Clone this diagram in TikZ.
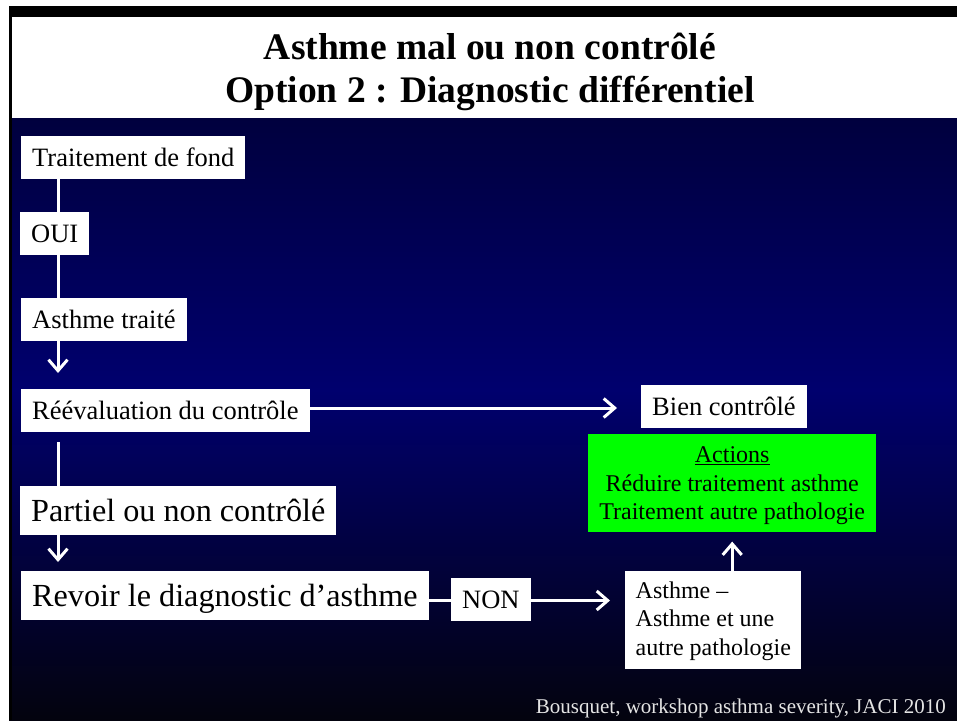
\documentclass[tikz,border=0pt]{standalone}
\usepackage{fontspec}
\setmainfont{Liberation Serif}
\usetikzlibrary{arrows.meta,calc}

\definecolor{navytop}{RGB}{0,0,62}
\definecolor{navymid}{RGB}{0,0,110}
\definecolor{navybot}{RGB}{3,3,14}
\definecolor{actgreen}{RGB}{0,255,0}
\definecolor{srcgray}{RGB}{228,228,228}

\tikzset{
  box/.style={fill=white, anchor=north west, inner xsep=11pt, inner ysep=0pt},
  smallbox/.style={box, font=\fontsize{26.5}{30}\selectfont, text height=30.5pt, text depth=12.5pt},
  largebox/.style={box, font=\fontsize{32.2}{36}\selectfont, text height=35pt, text depth=13.5pt},
  titletext/.style={anchor=base, inner sep=0pt, font=\fontsize{37.5}{43}\selectfont\bfseries},
  link/.style={draw=white, line width=3pt},
  arr/.style={link, -{Straight Barb[length=11pt,width=19pt]}},
}

\begin{document}
\begin{tikzpicture}[x=1pt,y=-1pt]
\useasboundingbox (0,0) rectangle (957,720);

% page, header bar and title panel
\fill[white] (0,0) rectangle (957,720);
\fill[black] (9,6) rectangle (957,17);
% body background
\shade[top color=navytop, bottom color=navymid] (9,118) rectangle (957,390);
\shade[top color=navymid, bottom color=navybot] (9,389.5) rectangle (957,720);
\fill[black] (9,6) rectangle (12,720);

% title
\node[titletext] (t1) at (490,59) {Asthme mal ou non contrôlé};
\node[titletext] (t2) at (490,102) {Option 2 : Diagnostic différentiel};

% flow boxes
\node[smallbox] (trt)  at (21,136)  {Traitement de fond};
\node[smallbox] (oui)  at (20,212)  {OUI};
\node[smallbox] (atr)  at (21,298)  {Asthme traité};
\node[smallbox] (ree)  at (21,389)  {Réévaluation du contrôle};
\node[smallbox] (bien) at (641,385) {Bien contrôlé};
\node[largebox] (par)  at (20,486)  {Partiel ou non contrôlé};
\node[largebox] (rev)  at (21,571)  {Revoir le diagnostic d’asthme};
\node[smallbox] (non)  at (451,578) {NON};
% multi-line boxes: text height runs down to the last baseline
\node[box, font=\fontsize{24}{28.5}\selectfont, align=left, inner xsep=10.5pt,
      text height=84pt, text depth=13.3pt] (asth) at (625,571)
  {Asthme –\\Asthme et une\\autre pathologie};
\node[box, fill=actgreen, font=\fontsize{24}{28.3}\selectfont, align=center,
      minimum width=288pt, text height=85.3pt, text depth=12.4pt] (act) at (588,434)
  {\underline{Actions}\\Réduire traitement asthme\\Traitement autre pathologie};

% source
\node[anchor=base east, inner sep=0pt, text=srcgray, font=\fontsize{21}{24}\selectfont]
  (src) at (946,713) {Bousquet, workshop asthma severity, JACI 2010};

% connectors
\coordinate (spine) at (58,0);
\coordinate (row1) at (0,408);
\coordinate (row2) at (0,600.5);
\draw[link] (trt.south -| spine) -- (oui.north -| spine);
\draw[link] (oui.south -| spine) -- (atr.north -| spine);
\draw[arr, shorten >=16pt] (atr.south -| spine) -- (ree.north -| spine);
\draw[link, shorten <=10pt] (ree.south -| spine) -- (par.north -| spine);
\draw[arr, shorten >=9pt] (par.south -| spine) -- (rev.north -| spine);
\draw[arr, shorten >=24pt] (ree.east |- row1) -- (bien.west |- row1);
\draw[link] (rev.east |- row2) -- (non.west |- row2);
\draw[arr, shorten >=15pt] (non.east |- row2) -- (asth.west |- row2);
\draw[arr, shorten >=9.5pt] (asth.north -| act.south) -- (act.south);
\end{tikzpicture}
\end{document}
